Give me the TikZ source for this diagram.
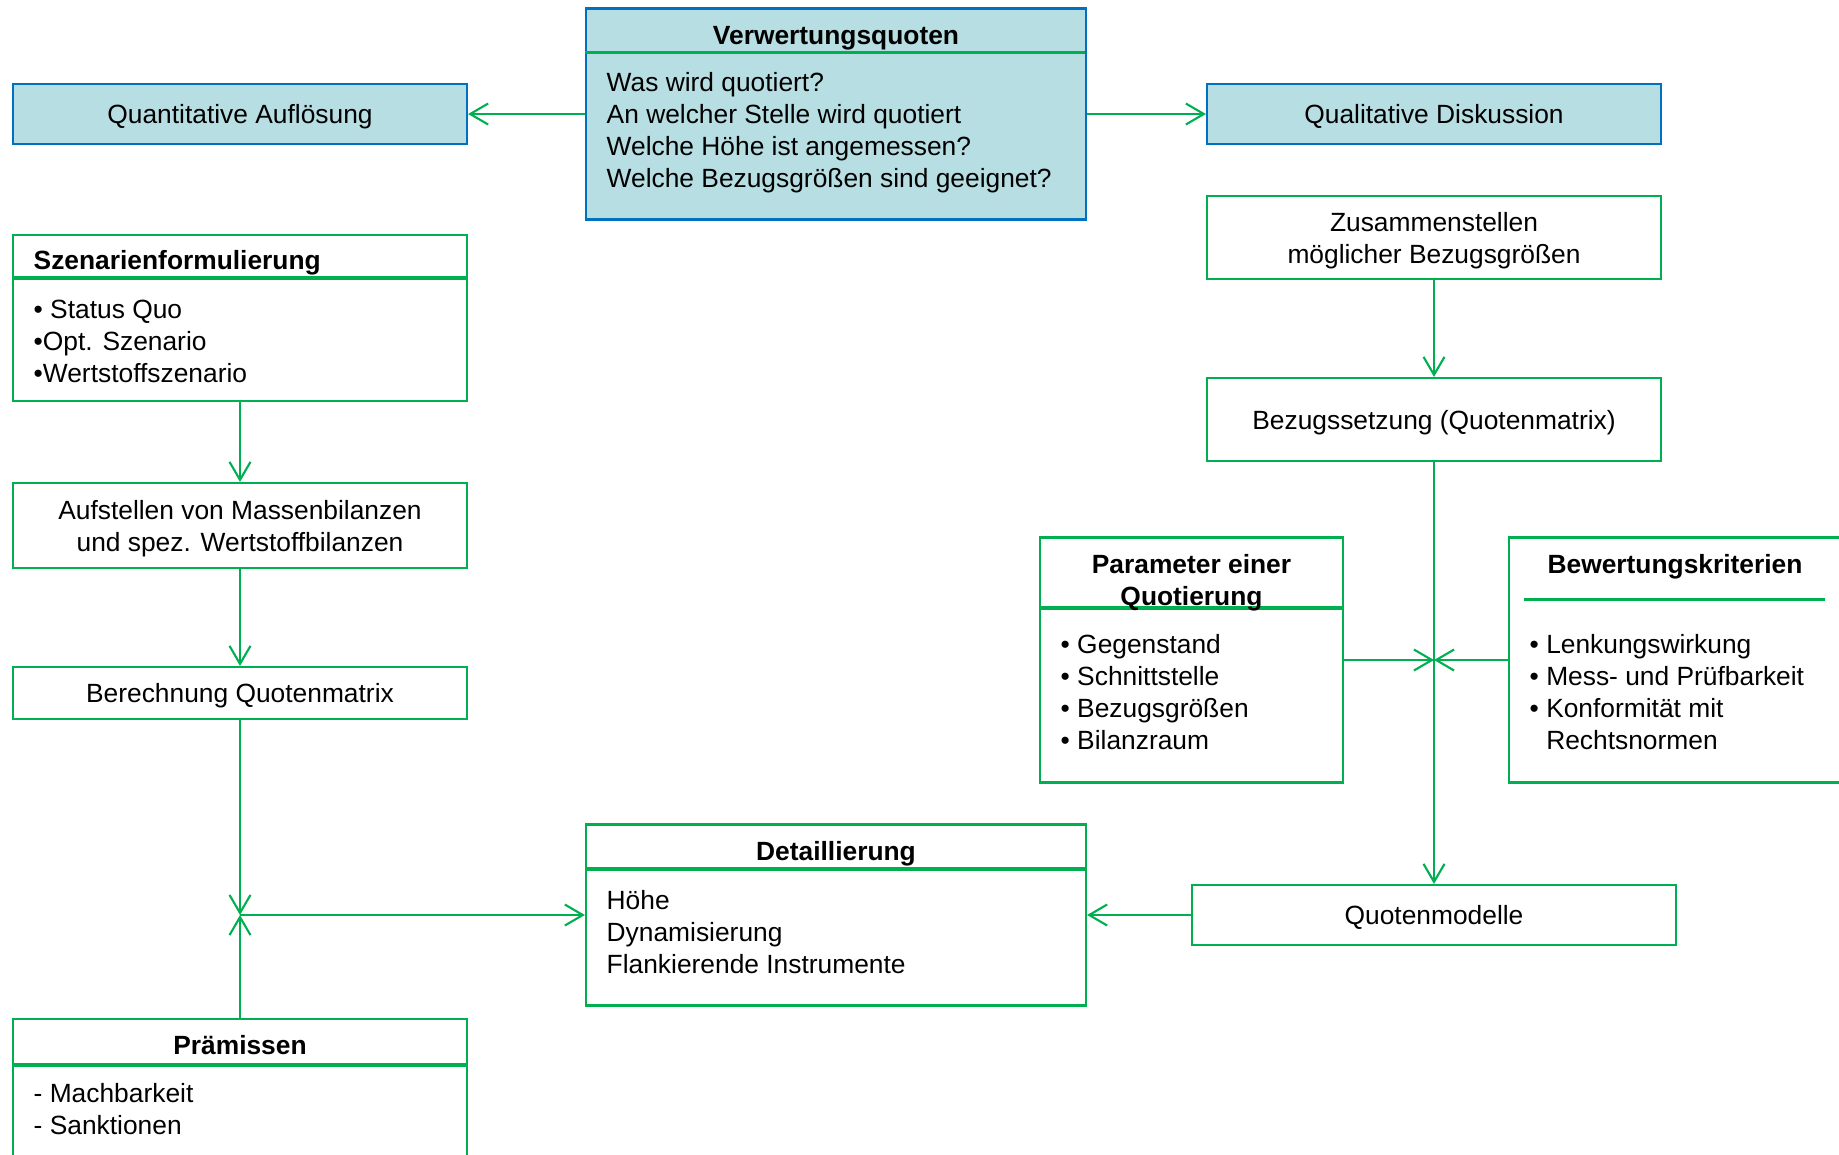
\documentclass[tikz,border=0pt]{standalone}
\usepackage{fontspec}
\setmainfont{Liberation Sans}
\usepackage{tikz}
\usepackage{xcolor}
\usetikzlibrary{arrows.meta}

\definecolor{lgreen}{RGB}{0,176,80}
\definecolor{lblue}{RGB}{0,112,192}
\definecolor{lfill}{RGB}{183,222,226}

\tikzset{
  bluebox/.style={draw=lblue,fill=lfill,line width=0.6pt,inner sep=0pt,align=center,text depth=0pt},
  greenbox/.style={draw=lgreen,line width=0.6pt,inner sep=0pt,align=center,text depth=0pt},
  conn/.style={draw=lgreen,line width=0.6pt,->},
  sepline/.style={draw=lgreen,line width=1.1pt},
  txt/.style={anchor=base west,inner sep=0pt,align=left},
  head/.style={anchor=base,inner sep=0pt,align=center,font=\fontsize{7.5}{9.07}\selectfont\bfseries}
}

\begin{document}
\begin{tikzpicture}[>={Straight Barb[length=1.8mm,width=2.1mm]},font=\fontsize{7.5}{9.07}\selectfont]
\useasboundingbox (0,0) rectangle (18.39,-11.54);
% top row
\node[bluebox,minimum width=5cm,minimum height=2.11cm] (verw) at (8.36,-1.14) {};
\draw[sepline] (verw.north west) ++(0,-0.45) -- ++(5,0);
\node[head] (verwtitle) at (8.36,-0.44) {Verwertungsquoten};
\node[txt] (verwtext) at (6.06,-1.87) {Was wird quotiert?\\An welcher Stelle wird quotiert\\Welche Höhe ist angemessen?\\Welche Bezugsgrößen sind geeignet?};
\node[bluebox,minimum width=4.54cm,minimum height=0.6cm] (quant) at (2.40,-1.14) {Quantitative Auflösung};
\node[bluebox,minimum width=4.54cm,minimum height=0.6cm] (qual) at (14.34,-1.14) {Qualitative Diskussion};
\draw[conn] (verw) -- (quant);
\draw[conn] (verw) -- (qual);
% left column
\node[greenbox,minimum width=4.54cm,minimum height=1.66cm] (szen) at (2.40,-3.18) {};
\draw[sepline] (szen.north west) ++(0,-0.44) -- ++(4.54,0);
\node[head,anchor=base west] (szentitle) at (0.33,-2.69) {Szenarienformulierung};
\node[txt] (szentext) at (0.33,-3.82) {• Status Quo\\•Opt. Szenario\\•Wertstoffszenario};
\node[greenbox,minimum width=4.54cm,minimum height=0.85cm] (aufst) at (2.40,-5.255) {Aufstellen von Massenbilanzen\\und spez. Wertstoffbilanzen};
\node[greenbox,minimum width=4.54cm,minimum height=0.52cm] (berech) at (2.40,-6.93) {Berechnung Quotenmatrix};
\node[greenbox,minimum width=4.54cm,minimum height=1.6cm] (praem) at (2.40,-10.99) {};
\draw[sepline] (praem.north west) ++(0,-0.47) -- ++(4.54,0);
\node[head] (praemtitle) at (2.40,-10.54) {Prämissen};
\node[txt] (praemtext) at (0.33,-11.34) {- Machbarkeit\\- Sanktionen};
\coordinate (jl) at (2.40,-9.15);
\draw[conn] (szen) -- (aufst);
\draw[conn] (aufst) -- (berech);
\draw[conn] (berech) -- (jl);
\draw[conn] (praem) -- (jl);
% middle
\node[greenbox,minimum width=5cm,minimum height=1.81cm] (detail) at (8.36,-9.15) {};
\draw[sepline] (detail.north west) ++(0,-0.455) -- ++(5,0);
\node[head] (detailtitle) at (8.36,-8.60) {Detaillierung};
\node[txt] (detailtext) at (6.06,-9.73) {Höhe\\Dynamisierung\\Flankierende Instrumente};
\draw[conn] (jl) -- (detail);
% right column
\node[greenbox,minimum width=4.54cm,minimum height=0.83cm] (zus) at (14.34,-2.375) {Zusammenstellen\\möglicher Bezugsgrößen};
\node[greenbox,minimum width=4.54cm,minimum height=0.83cm] (bezug) at (14.34,-4.195) {Bezugssetzung (Quotenmatrix)};
\node[greenbox,minimum width=3.03cm,minimum height=2.45cm] (param) at (11.915,-6.60) {};
\draw[sepline] (param.north west) ++(0,-0.715) -- ++(3.03,0);
\node[head] (paramtitle) at (11.915,-6.05) {Parameter einer\\Quotierung};
\node[txt] (paramtext) at (10.60,-7.49) {• Gegenstand\\• Schnittstelle\\• Bezugsgrößen\\• Bilanzraum};
\node[greenbox,minimum width=3.51cm,minimum height=2.45cm] (bewert) at (16.845,-6.60) {};
\draw[sepline] (bewert.north west) ++(0.16,-0.63) -- ++(3.01,0);
\node[head] (bewerttitle) at (16.75,-5.73) {Bewertungskriterien};
\node[txt] (bewerttext) at (15.29,-7.49) {• Lenkungswirkung\\• Mess- und Prüfbarkeit\\• Konformität mit\\\phantom{•\ }Rechtsnormen};
\node[greenbox,minimum width=4.84cm,minimum height=0.6cm] (quoten) at (14.34,-9.15) {Quotenmodelle};
\coordinate (jr) at (14.34,-6.60);
\draw[conn] (zus) -- (bezug);
\draw[conn] (bezug) -- (quoten);
\draw[conn] (param) -- (jr);
\draw[conn] (bewert) -- (jr);
\draw[conn] (quoten) -- (detail);
\end{tikzpicture}
\end{document}
